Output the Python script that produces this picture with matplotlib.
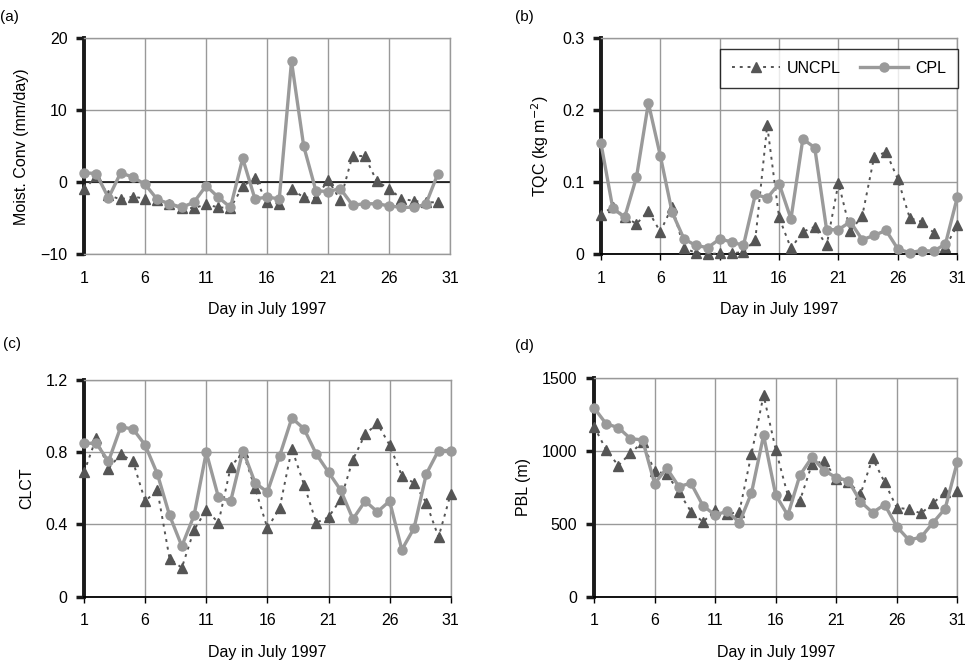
import matplotlib.pyplot as plt
from matplotlib.ticker import FuncFormatter

plt.rcParams['font.family'] = ['Liberation Sans', 'DejaVu Sans']

days_a = list(range(1, 31))
days = list(range(1, 32))

# (a) moisture convergence, mm/day (30 days)
mc_uncpl = [-1.0, 0.8, -1.8, -2.4, -2.0, -2.3, -2.5, -3.1, -3.6, -3.6,
            -3.1, -3.5, -3.6, -0.6, 0.6, -2.8, -3.0, -1.0, -2.1, -2.2,
            0.3, -2.5, 3.7, 3.6, 0.1, -0.9, -2.3, -2.6, -2.8, -2.8]
mc_cpl = [1.3, 1.2, -2.2, 1.3, 0.7, -0.3, -2.4, -3.0, -3.5, -2.8,
          -0.5, -2.1, -3.5, 3.3, -2.3, -2.1, -2.3, 16.8, 5.0, -1.2,
          -1.3, -0.9, -3.2, -3.0, -3.0, -3.3, -3.5, -3.5, -3.1, 1.2]

# (b) TQC, kg m-2
tqc_uncpl = [0.054, 0.066, 0.052, 0.042, 0.060, 0.031, 0.066, 0.008, 0.002, 0.000,
             0.001, 0.001, 0.003, 0.020, 0.179, 0.051, 0.008, 0.031, 0.038, 0.012,
             0.099, 0.032, 0.053, 0.135, 0.142, 0.104, 0.050, 0.045, 0.030, 0.010,
             0.040]
tqc_cpl = [0.155, 0.064, 0.051, 0.107, 0.210, 0.137, 0.058, 0.021, 0.012, 0.009,
           0.021, 0.017, 0.012, 0.083, 0.078, 0.098, 0.049, 0.160, 0.148, 0.034,
           0.034, 0.045, 0.020, 0.026, 0.033, 0.007, 0.002, 0.005, 0.004, 0.014,
           0.079]

# (c) CLCT
clct_uncpl = [0.69, 0.88, 0.71, 0.79, 0.75, 0.53, 0.59, 0.21, 0.16, 0.37,
              0.48, 0.41, 0.72, 0.80, 0.60, 0.38, 0.49, 0.82, 0.62, 0.41,
              0.44, 0.54, 0.76, 0.90, 0.96, 0.84, 0.67, 0.63, 0.52, 0.33,
              0.57]
clct_cpl = [0.85, 0.85, 0.75, 0.94, 0.93, 0.84, 0.68, 0.45, 0.28, 0.45,
            0.80, 0.55, 0.53, 0.81, 0.63, 0.58, 0.78, 0.99, 0.93, 0.79,
            0.69, 0.59, 0.43, 0.53, 0.47, 0.53, 0.26, 0.38, 0.68, 0.81,
            0.81]

# (d) PBL height, m
pbl_uncpl = [1168, 1008, 900, 985, 1060, 861, 843, 719, 584, 513,
             593, 566, 584, 980, 1383, 1010, 696, 659, 911, 930,
             811, 788, 703, 950, 785, 611, 600, 572, 641, 719,
             726]
pbl_cpl = [1296, 1186, 1161, 1085, 1076, 776, 882, 756, 779, 623,
           561, 586, 508, 712, 1108, 698, 559, 834, 957, 866,
           817, 797, 653, 577, 632, 481, 389, 408, 508, 605,
           925]

xticks = [1, 6, 11, 16, 21, 26, 31]

fig = plt.figure(figsize=(9.66, 6.6), dpi=100)
ax_a = fig.add_axes([0.087, 0.615, 0.379, 0.327])
ax_b = fig.add_axes([0.622, 0.615, 0.369, 0.327])
ax_c = fig.add_axes([0.087, 0.096, 0.3796, 0.328])
ax_d = fig.add_axes([0.615, 0.096, 0.376, 0.331])


def fmt(v, pos):
    s = '{:g}'.format(v)
    return s.replace('-', '\u2212')


def style(ax, x, unc, cpl, ylim, yticks, ylabel, zero_line=False):
    ax.plot(x, unc, linestyle=(0, (1.5, 2.5)), color='#555555', lw=1.4,
            marker='^', ms=7.5, mfc='#555555', mec='#555555', label='UNCPL', zorder=3)
    ax.plot(x, cpl, linestyle='-', color='#9a9a9a', lw=2.4,
            marker='o', ms=6.5, mfc='#9a9a9a', mec='#9a9a9a', label='CPL', zorder=4)
    ax.set_xlim(1, 31)
    ax.set_ylim(*ylim)
    ax.set_xticks(xticks)
    ax.set_yticks(yticks)
    ax.yaxis.set_major_formatter(FuncFormatter(fmt))
    ax.grid(True, color='#999999', lw=1.0)
    ax.set_axisbelow(True)
    for s in ['top', 'right']:
        ax.spines[s].set_color('#999999')
        ax.spines[s].set_linewidth(1.0)
    ax.spines['left'].set_linewidth(2.8)
    ax.spines['left'].set_color('#1a1a1a')
    ax.tick_params(axis='y', length=6, width=2.5, color='#1a1a1a', labelsize=11.5, pad=6)
    if zero_line:
        ax.spines['bottom'].set_color('#999999')
        ax.spines['bottom'].set_linewidth(1.0)
        ax.axhline(0, color='black', lw=1.1, zorder=2)
        ax.tick_params(axis='x', length=0, labelsize=11.5, pad=12)
    else:
        ax.spines['bottom'].set_color('black')
        ax.spines['bottom'].set_linewidth(1.3)
        ax.tick_params(axis='x', length=4, width=1, labelsize=11.5, pad=8)
    ax.set_xlabel('Day in July 1997', fontsize=11.5, labelpad=12)
    ax.set_ylabel(ylabel, fontsize=11.5, labelpad=8)


style(ax_a, days_a, mc_uncpl, mc_cpl, (-10, 20), [-10, 0, 10, 20],
      'Moist. Conv (mm/day)', zero_line=True)
style(ax_b, days, tqc_uncpl, tqc_cpl, (0, 0.3), [0, 0.1, 0.2, 0.3],
      'TQC (kg m$^{-2}$)')
style(ax_c, days, clct_uncpl, clct_cpl, (0, 1.2), [0, 0.4, 0.8, 1.2], 'CLCT')
style(ax_d, days, pbl_uncpl, pbl_cpl, (0, 1500), [0, 500, 1000, 1500], 'PBL (m)')

for ax in [ax_a, ax_b, ax_c, ax_d]:
    for ln in ax.get_lines():
        ln.set_clip_on(False)

leg = ax_b.legend(loc='center', bbox_to_anchor=(0.356, 0.764, 0.625, 0.194),
                  ncol=2, frameon=True, fancybox=False, fontsize=11.5,
                  handlelength=3.0, handletextpad=0.45, columnspacing=1.2,
                  borderpad=0.75, borderaxespad=0)
leg.get_frame().set_edgecolor('black')
leg.get_frame().set_linewidth(1.0)

fig.text(0.0, 0.985, '(a)', fontsize=11, va='top')
fig.text(0.533, 0.985, '(b)', fontsize=11, va='top')
fig.text(0.003, 0.49, '(c)', fontsize=11, va='top')
fig.text(0.533, 0.487, '(d)', fontsize=11, va='top')

fig.savefig('out.png', dpi=100)
